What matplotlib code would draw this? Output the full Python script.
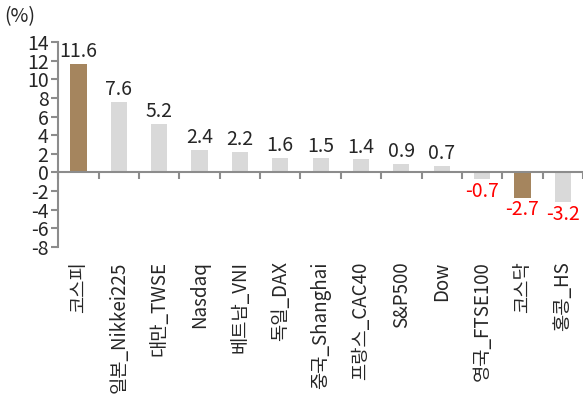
import matplotlib
matplotlib.use("Agg")
import matplotlib.pyplot as plt
import numpy as np

plt.rcParams['font.family'] = ['Noto Sans CJK KR', 'DejaVu Sans']

categories = ["코스피", "일본_Nikkei225", "대만_TWSE", "Nasdaq", "베트남_VNI", "독일_DAX",
              "중국_Shanghai", "프랑스_CAC40", "S&P500", "Dow", "영국_FTSE100", "코스닥", "홍콩_HS"]
values = [11.6, 7.6, 5.2, 2.4, 2.2, 1.6, 1.5, 1.4, 0.9, 0.7, -0.7, -2.7, -3.2]
highlight = ["코스피", "코스닥"]
y_ticks = list(range(-8, 15, 2))

BROWN = "#A5855E"
GRAY = "#D9D9D9"
AX = "#8C8C8C"

fig = plt.figure(figsize=(5.83, 4.03), dpi=100)
ax = fig.add_axes([0.100, 0.387, 0.900, 0.509])

x = np.arange(len(categories))
colors = [BROWN if c in highlight else GRAY for c in categories]
ax.bar(x, values, width=0.4, color=colors, zorder=2)

for xi, v in zip(x, values):
    if v >= 0:
        ax.text(xi, v + 0.2, f"{v:.1f}", ha="center", va="bottom", fontsize=14,
                color="#262626", fontweight="light")
    else:
        ax.text(xi, v - 0.2, f"{v:.1f}", ha="center", va="top", fontsize=14,
                color="#FF0000", fontweight="light")

ax.set_xlim(-0.5, len(categories) - 0.5)
ax.set_ylim(-8, 14)
ax.set_yticks(y_ticks)
ax.set_yticklabels([str(t) for t in y_ticks], fontsize=14, fontweight="light", color="#262626")

for s in ["top", "right"]:
    ax.spines[s].set_visible(False)
ax.spines["left"].set_color(AX)
ax.spines["left"].set_linewidth(1.5)
ax.spines["bottom"].set_position(("data", 0))
ax.spines["bottom"].set_color(AX)
ax.spines["bottom"].set_linewidth(1.5)

ax.set_xticks(x)
ax.set_xticklabels(categories, rotation=90, fontsize=13.5, fontweight="light", color="#262626")
ax.tick_params(axis="x", which="major", length=0, pad=64)
ax.set_xticks(np.arange(len(categories) + 1) - 0.5, minor=True)
ax.tick_params(axis="x", which="minor", length=5, width=1.5, color=AX, direction="out")
ax.tick_params(axis="y", which="major", length=5, width=1.5, color=AX, pad=2)

fig.text(0.008, 0.985, "(%)", ha="left", va="top", fontsize=14, fontweight="light", color="#262626")

fig.savefig("out.png", dpi=100)
